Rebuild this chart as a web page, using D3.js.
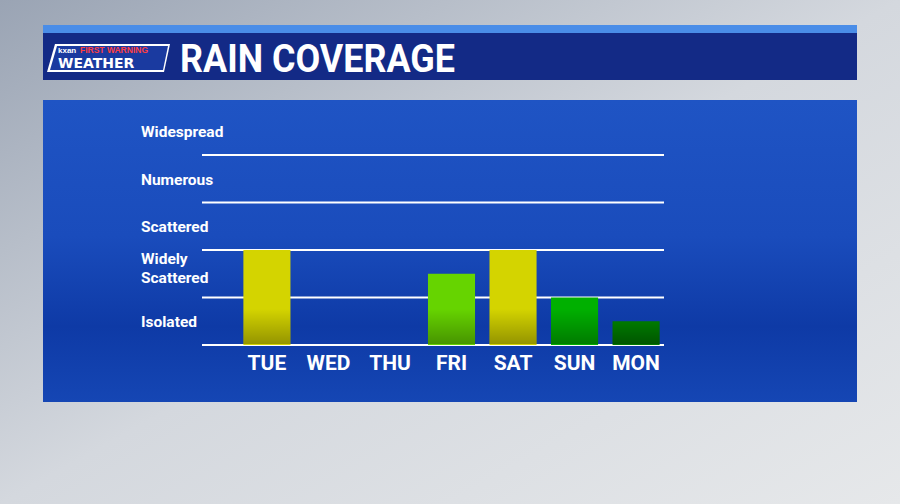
<!DOCTYPE html><html><head><meta charset="utf-8">
<script src="https://cdn.jsdelivr.net/npm/d3@7"></script>
<style>body{margin:0;overflow:hidden}</style></head><body><svg id="c" width="900" height="504"></svg>
<script>
const days=["TUE","WED","THU","FRI","SAT","SUN","MON"];
const values=[2,0,0,1.5,2,1,0.5];
const colors=["#d4d400","#000","#000","#66d400","#d4d400","#00b000","#007a00"];
const levels=[[["Isolated"],0.5],[["Widely","Scattered"],1.5],[["Scattered"],2.5],[["Numerous"],3.5],[["Widespread"],4.5]];
const gridVals=[0,1,2,3,4];
const svg=d3.select("#c");
const defs=svg.append("defs");
const bg=defs.append("linearGradient").attr("id","bg").attr("x1",0).attr("y1",0).attr("x2",1).attr("y2",1);
bg.append("stop").attr("offset",0).attr("stop-color","#9aa4b4");
bg.append("stop").attr("offset",0.5).attr("stop-color","#d4d8de");
bg.append("stop").attr("offset",1).attr("stop-color","#e6e8ea");
svg.append("rect").attr("width",900).attr("height",504).attr("fill","url(#bg)");
const pg=defs.append("linearGradient").attr("id","pg").attr("x1",0).attr("y1",0).attr("x2",0).attr("y2",1);
pg.append("stop").attr("offset",0).attr("stop-color","#1f54c4");
pg.append("stop").attr("offset",0.45).attr("stop-color","#1a4cbc");
pg.append("stop").attr("offset",0.75).attr("stop-color","#0e3aa6");
pg.append("stop").attr("offset",1).attr("stop-color","#1546b4");
svg.append("rect").attr("x",43).attr("y",100).attr("width",814).attr("height",302).attr("fill","url(#pg)");
svg.append("rect").attr("x",43).attr("y",25).attr("width",814).attr("height",8).attr("fill","#4a8de8");
svg.append("rect").attr("x",43).attr("y",33).attr("width",814).attr("height",47).attr("fill","#132a86");
svg.append("polygon").attr("points","55,44 170,44 164,72 47,72").attr("fill","#fff");
svg.append("polygon").attr("points","57,46 168,46 163,70 50,70").attr("fill","#1a3aa0");
svg.append("text").attr("x",58).attr("y",53).attr("font-family","Liberation Sans").attr("font-size",8).attr("font-weight","bold").attr("fill","#fff").text("kxan");
svg.append("text").attr("x",80).attr("y",53).attr("font-family","Liberation Sans").attr("font-size",8.5).attr("font-weight","bold").attr("fill","#ff4040").text("FIRST WARNING");
svg.append("text").attr("x",58).attr("y",68).attr("font-family","DejaVu Sans").attr("font-size",14).attr("font-weight","bold").attr("fill","#fff").text("WEATHER");
svg.append("text").attr("x",180).attr("y",72).attr("font-family","Roboto").attr("font-size",38).attr("font-weight","bold").attr("fill","#fff").attr("textLength",275).attr("lengthAdjust","spacingAndGlyphs").text("RAIN COVERAGE");
const x=d3.scaleBand().domain(days).range([236,667]).paddingInner(0.235).paddingOuter(0.12);
const y=d3.scaleLinear().domain([0,4]).range([345,155]);
const g=svg.append("g");
const sg=defs.append("linearGradient").attr("id","sh").attr("x1",0).attr("y1",0).attr("x2",0).attr("y2",1);
sg.append("stop").attr("offset",0).attr("stop-color","#000").attr("stop-opacity",0);
sg.append("stop").attr("offset",1).attr("stop-color","#000").attr("stop-opacity",0.3);
g.selectAll("line.grid").data(gridVals).join("line").attr("x1",202).attr("x2",664).attr("y1",d=>y(d)).attr("y2",d=>y(d)).attr("stroke","#fff").attr("stroke-width",2);
days.forEach((d,i)=>{ if(!values[i])return;
 g.append("rect").attr("x",x(d)).attr("width",x.bandwidth()).attr("y",y(values[i])).attr("height",y(0)-y(values[i])).attr("fill",colors[i]);
 const sh=Math.min(36,y(0)-y(values[i]));
 g.append("rect").attr("x",x(d)).attr("width",x.bandwidth()).attr("y",y(0)-sh).attr("height",sh-1).attr("fill","url(#sh)");
});
g.selectAll("text.day").data(days).join("text").attr("class","day").attr("x",d=>x(d)+x.bandwidth()/2).attr("y",370).attr("text-anchor","middle").attr("font-family","Roboto").attr("font-weight","bold").attr("font-size",21).attr("fill","#fff").text(d=>d);
levels.forEach(([lines,v])=>{
 const y0=lines.length>1?y(v)-10:y(v)+6;
 lines.forEach((l,j)=>g.append("text").attr("x",141).attr("y",y0+j*19).attr("font-family","Roboto").attr("font-weight","bold").attr("font-size",15.5).attr("fill","#fff").text(l));
});
</script></body></html>
